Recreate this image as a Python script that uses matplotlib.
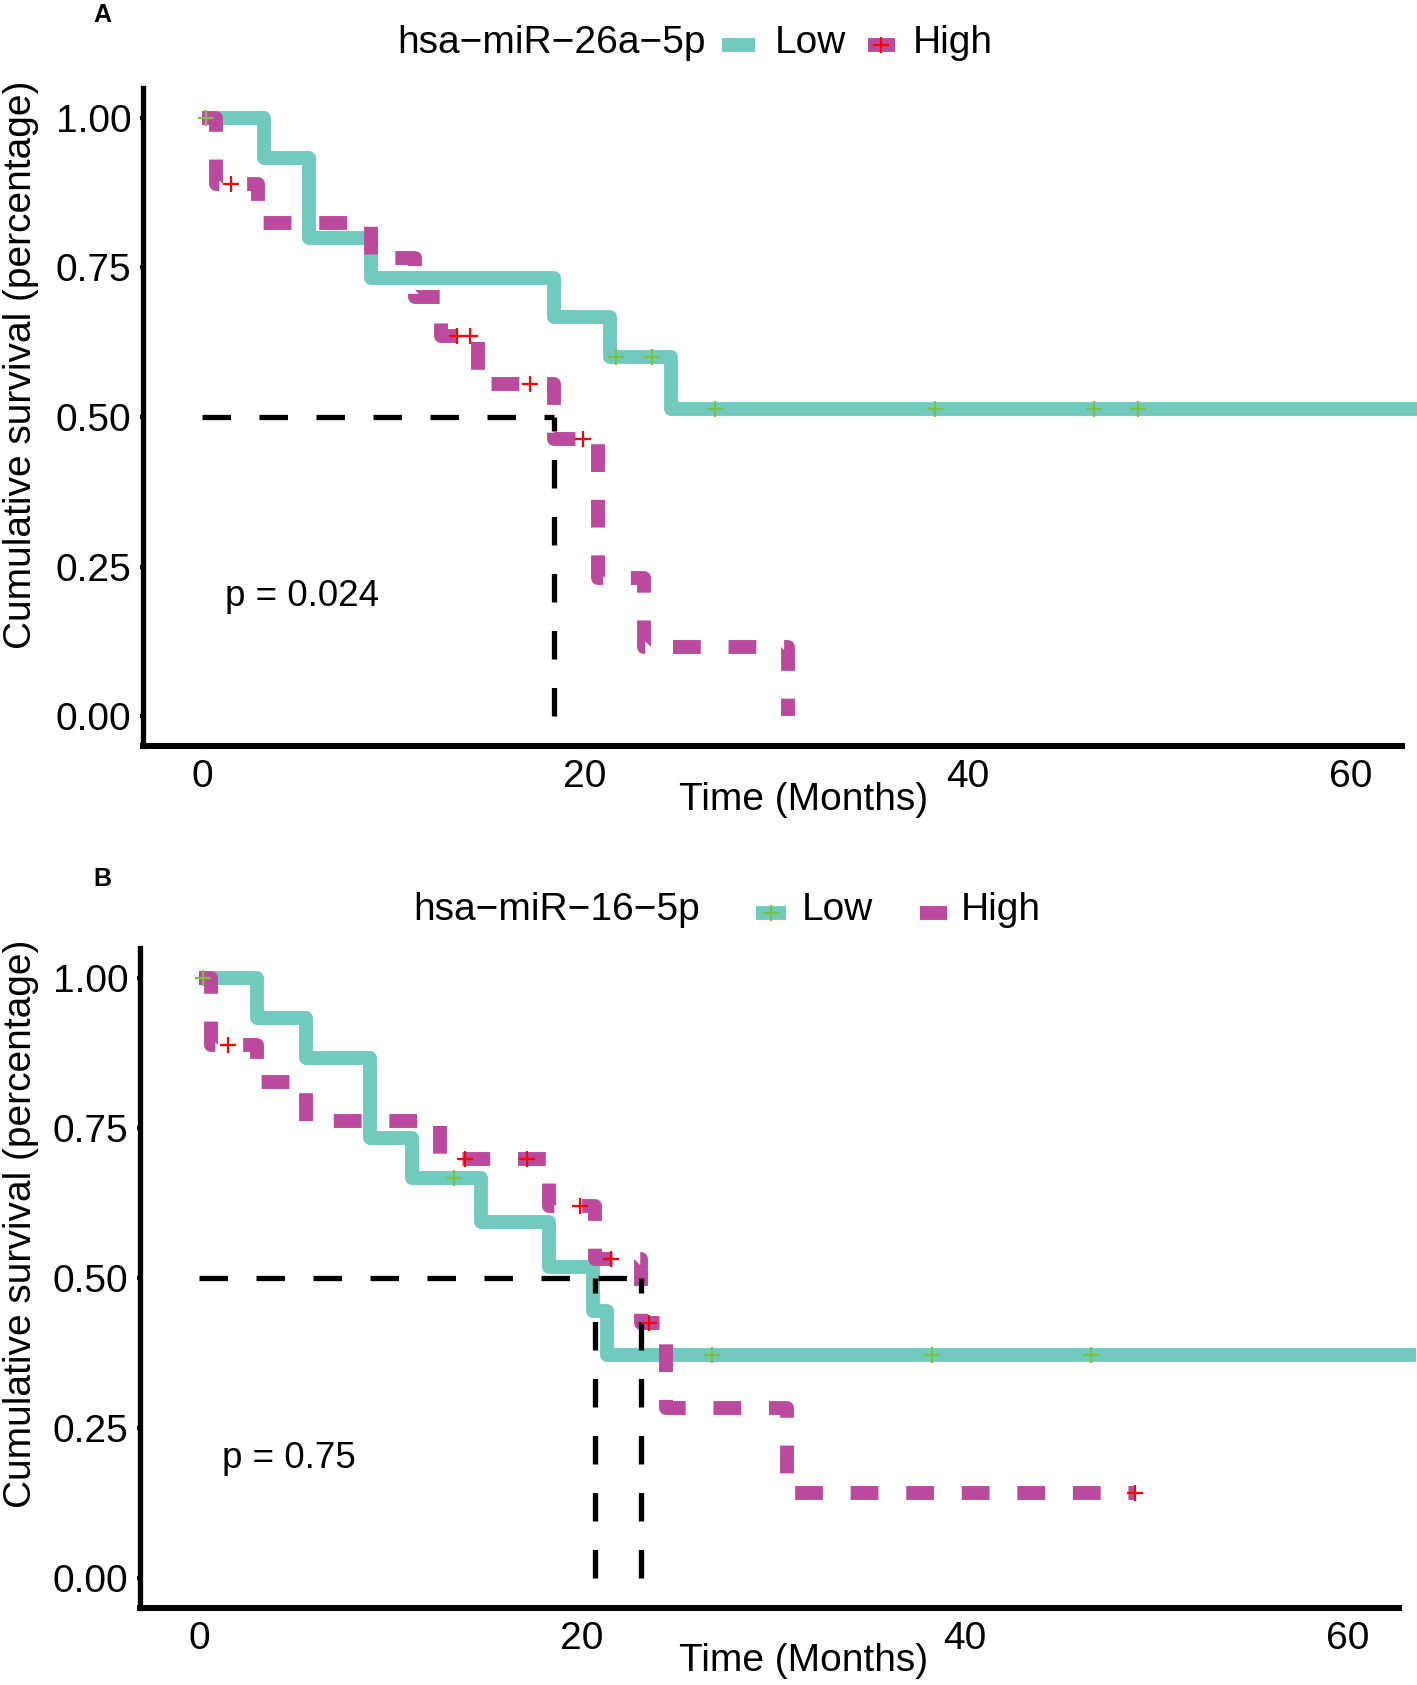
import matplotlib.pyplot as plt
import numpy as np
from matplotlib.lines import Line2D

plt.rcParams['font.family'] = ['Liberation Sans', 'DejaVu Sans']

# Panel A - hsa-miR-26a-5p
a_low_t = [0, 3.2, 5.6, 8.8, 18.4, 21.3, 24.5, 63.6]
a_low_s = [1.0, 0.933, 0.800, 0.733, 0.667, 0.600, 0.514, 0.514]
a_low_cens_t = [0.2, 21.6, 23.5, 26.8, 38.3, 46.6, 48.9]
a_low_cens_s = [1.0, 0.600, 0.600, 0.514, 0.514, 0.514, 0.514]
a_high_t = [0, 0.7, 2.9, 8.8, 11.1, 12.5, 14.4, 18.4, 20.7, 23.1, 30.6]
a_high_s = [1.0, 0.889, 0.824, 0.765, 0.700, 0.635, 0.556, 0.463, 0.231, 0.116, 0.0]
a_high_cens_t = [1.5, 13.3, 14.0, 17.1, 19.9]
a_high_cens_s = [0.889, 0.635, 0.635, 0.556, 0.463]
a_medians = [18.4]
a_pval = 'p = 0.024'

# Panel B - hsa-miR-16-5p
b_low_t = [0, 3.0, 5.6, 8.9, 11.1, 14.7, 18.3, 20.6, 21.3, 63.6]
b_low_s = [1.0, 0.933, 0.867, 0.733, 0.667, 0.593, 0.519, 0.445, 0.371, 0.371]
b_low_cens_t = [0.2, 13.3, 26.8, 38.3, 46.6]
b_low_cens_s = [1.0, 0.667, 0.371, 0.371, 0.371]
b_high_t = [0, 0.6, 3.0, 5.6, 12.6, 18.3, 20.7, 23.1, 24.4, 30.7, 48.9]
b_high_s = [1.0, 0.889, 0.826, 0.761, 0.698, 0.620, 0.531, 0.425, 0.283, 0.142, 0.142]
b_high_cens_t = [1.5, 13.9, 17.1, 19.9, 21.5, 23.5, 48.9]
b_high_cens_s = [0.889, 0.698, 0.698, 0.620, 0.531, 0.425, 0.142]
b_medians = [20.7, 23.1]
b_pval = 'p = 0.75'

teal = '#70CBBE'
magenta = '#BB4A9E'
green = '#7DC142'
red = '#FF0000'

W, H = 1417, 1685
fig = plt.figure(figsize=(W / 100, H / 100), dpi=100)


def fx(px):
    return px / W


def fy(py):
    return 1 - py / H


def draw_panel(rect, low_t, low_s, lc_t, lc_s, high_t, high_s, hc_t, hc_s,
               medians, pval):
    ax = fig.add_axes(rect)
    ax.step(low_t, low_s, where='post', color=teal, lw=10,
            solid_joinstyle='round', solid_capstyle='butt', clip_on=False,
            zorder=2)
    ax.step(high_t, high_s, where='post', color=magenta, lw=10,
            linestyle=(0, (2, 2)), dash_capstyle='butt', zorder=3)
    # median lines
    ax.plot([0, max(medians)], [0.5, 0.5], color='black', lw=3.8,
            linestyle=(0, (5.4, 5.4)), dash_capstyle='butt', zorder=4)
    for m in medians:
        ax.plot([m, m], [0, 0.5], color='black', lw=3.8,
                linestyle=(0, (5.4, 5.4)), dash_capstyle='butt', zorder=4)
    # censor marks
    ax.plot(lc_t, lc_s, '+', color=green, ms=11, mew=1.6, zorder=5)
    ax.plot(hc_t, hc_s, '+', color=red, ms=11, mew=1.6, zorder=5)
    ax.text(1.2, 0.2, pval, fontsize=26.5, va='center', ha='left')

    ax.set_xlim(-3.1, 62.7)
    ax.set_ylim(-0.05, 1.05)
    ax.set_xticks([0, 20, 40, 60])
    ax.set_yticks([0, 0.25, 0.5, 0.75, 1.0])
    ax.set_yticklabels(['0.00', '0.25', '0.50', '0.75', '1.00'])
    for s in ['top', 'right']:
        ax.spines[s].set_visible(False)
    ax.spines['left'].set_linewidth(3.8)
    ax.spines['bottom'].set_linewidth(4.3)
    ax.tick_params(axis='both', labelsize=28, width=3, length=2.5,
                   color='black')
    ax.tick_params(axis='x', pad=7)
    ax.tick_params(axis='y', pad=6)
    return ax


axA = draw_panel([fx(143), fy(746), fx(1402) - fx(143), fy(88) - fy(746)],
                 a_low_t, a_low_s, a_low_cens_t, a_low_cens_s,
                 a_high_t, a_high_s, a_high_cens_t, a_high_cens_s,
                 a_medians, a_pval)
axB = draw_panel([fx(140), fy(1608), fx(1399) - fx(140), fy(948) - fy(1608)],
                 b_low_t, b_low_s, b_low_cens_t, b_low_cens_s,
                 b_high_t, b_high_s, b_high_cens_t, b_high_cens_s,
                 b_medians, b_pval)

# panel letters
fig.text(fx(102), fy(15), 'A', fontsize=18, fontweight='bold',
         ha='center', va='center')
fig.text(fx(102), fy(879), 'B', fontsize=18, fontweight='bold',
         ha='center', va='center')

# axis labels
for yc, xl_y in [(365, 800), (1224, 1661)]:
    fig.text(fx(21), fy(yc), 'Cumulative survival (percentage)', fontsize=28,
             rotation=90, ha='center', va='center')
    fig.text(fx(804), fy(xl_y), 'Time (Months)', fontsize=28,
             ha='center', va='center')


def key(x0, x1, y, color):
    fig.add_artist(Line2D([fx(x0), fx(x1)], [fy(y), fy(y)],
                          transform=fig.transFigure, lw=10, color=color,
                          solid_capstyle='butt'))


def cross(x, y, color):
    fig.add_artist(Line2D([fx(x)], [fy(y)], transform=fig.transFigure,
                          marker='+', ms=11, mew=1.6, color=color,
                          linestyle='none'))


# legend A
fig.text(fx(397), fy(43), 'hsa\u2212miR\u221226a\u22125p', fontsize=28,
         ha='left', va='center')
key(722, 755, 45, teal)
fig.text(fx(775), fy(43), 'Low', fontsize=28, ha='left', va='center')
key(868, 895, 45, magenta)
cross(881, 45, red)
fig.text(fx(913), fy(43), 'High', fontsize=28, ha='left', va='center')

# legend B
fig.text(fx(413), fy(910), 'hsa\u2212miR\u221216\u22125p', fontsize=28,
         ha='left', va='center')
key(756, 786, 913, teal)
cross(771, 913, green)
fig.text(fx(802), fy(910), 'Low', fontsize=28, ha='left', va='center')
key(920, 947, 913, magenta)
fig.text(fx(961), fy(910), 'High', fontsize=28, ha='left', va='center')

fig.savefig('out.png', dpi=100)
